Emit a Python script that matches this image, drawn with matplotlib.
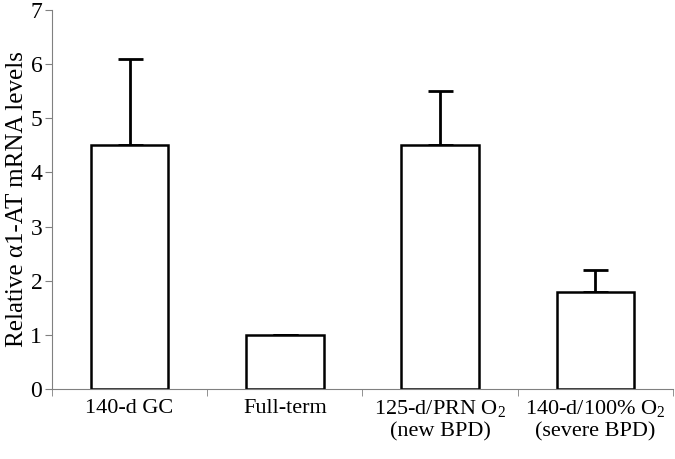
import numpy as np
import matplotlib.pyplot as plt

plt.rcParams['font.family'] = ['Liberation Serif', 'DejaVu Serif']
plt.rcParams['mathtext.fontset'] = 'custom'
plt.rcParams['mathtext.rm'] = 'Liberation Serif'

groups = ['140-d GC', 'Full-term', '125-d/PRN O$_2$\n(new BPD)',
          '140-d/100% O$_2$\n(severe BPD)']
levels = [4.5, 1.0, 4.5, 1.8]
errors = [1.6, 0.0, 1.0, 0.4]

fig = plt.figure(figsize=(6.75, 4.59), dpi=100)
ax = fig.add_axes([0.077, 0.1525, 0.92, 0.826])

x = np.arange(len(groups))
ax.bar(x, levels, width=0.5, color='white', edgecolor='black', linewidth=1.8, zorder=2)
ax.errorbar(x, levels, yerr=[np.zeros(len(errors)), errors], fmt='none',
            ecolor='black', elinewidth=2, capsize=9, capthick=2, zorder=1)

ax.set_xlim(-0.5, len(groups) - 0.5)
ax.set_ylim(0, 7)
ax.set_yticks(range(8))
ax.set_xticks(x)
ax.set_xticklabels(groups, fontsize=16, linespacing=1.15)
ax.set_xticks(np.arange(len(groups) + 1) - 0.5, minor=True)
ax.tick_params(axis='x', which='major', length=0, pad=7)
ax.tick_params(axis='x', which='minor', length=5, color='#808080')
ax.tick_params(axis='y', labelsize=17, length=5, color='#808080', pad=2)
ax.set_ylabel('Relative \u03b11-AT mRNA levels', fontsize=18, labelpad=2)

for s in ['top', 'right']:
    ax.spines[s].set_visible(False)
for s in ['left', 'bottom']:
    ax.spines[s].set_color('#808080')

fig.savefig('out.png', dpi=100)
